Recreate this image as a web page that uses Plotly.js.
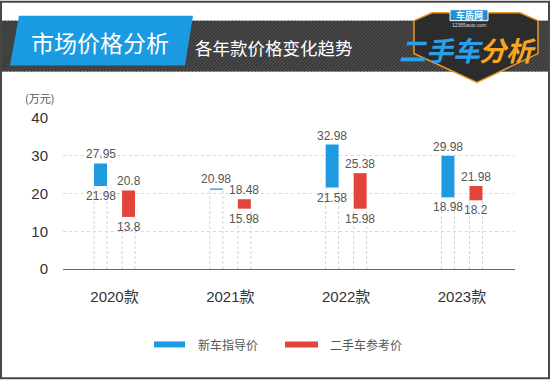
<!DOCTYPE html>
<html>
<head>
<meta charset="utf-8">
<script src="https://cdn.plot.ly/plotly-3.0.1.min.js"></script>
<style>
  html, body { margin: 0; padding: 0; background: #fff; }
  #chart { width: 550px; height: 380px; }
</style>
</head>
<body>
<div id="chart"></div>
<script>
// ---- data ----
const categories = ['2020款', '2021款', '2022款', '2023款'];
const newLow  = [21.98, 20.98, 21.58, 18.98];
const newHigh = [27.95, 20.98, 32.98, 29.98];
const usedLow  = [13.8, 15.98, 15.98, 18.2];
const usedHigh = [20.8, 18.48, 25.38, 21.98];
const seriesNames = ['新车指导价', '二手车参考价'];
const yTicks = [0, 10, 20, 30, 40];

// ---- style ----
const BLUE = '#1e9be0', RED = '#e2433b';
const FONT = 'Liberation Sans, Arial, "Noto Sans CJK SC", sans-serif';
const CJK = '"Noto Sans CJK SC", sans-serif';
const L = 63, R = 515, T = 117.7, B = 269.3;
const W = R - L, H = B - T;
const px = x => (x - L) / W;
const py = y => (B - y) / H;
const OFF = 0.121, BW = 0.112, MINLEN = 0.35;

const idx = categories.map((_, i) => i);
function barTrace(lo, hi, sign, color, name) {
  return {
    type: 'bar', name: name,
    x: idx.map(i => i + sign * OFF),
    y: lo.map((v, i) => Math.max(hi[i] - v, MINLEN)),
    base: lo, width: BW,
    marker: { color: color, line: { width: 0 } },
    hoverinfo: 'skip', showlegend: false
  };
}
function guideTrace(lo, sign) {
  const xs = [], ys = [];
  idx.forEach(i => {
    const c = i + sign * OFF;
    [c - BW / 2, c + BW / 2].forEach(x => { xs.push(x, x, null); ys.push(0, lo[i], null); });
  });
  return { type: 'scatter', mode: 'lines', x: xs, y: ys,
    line: { color: '#d4d4d4', width: 1, dash: '3px,2px' }, hoverinfo: 'skip', showlegend: false };
}

const traces = [
  guideTrace(newLow, -1), guideTrace(usedLow, 1),
  barTrace(newLow, newHigh, -1, BLUE, seriesNames[0]),
  barTrace(usedLow, usedHigh, 1, RED, seriesNames[1])
];

const annotations = [];
function labels(lo, hi, sign) {
  idx.forEach(i => {
    const c = i + sign * OFF;
    const top = Math.max(hi[i], lo[i] + MINLEN);
    annotations.push({ x: c, y: top, xref: 'x', yref: 'y', text: String(hi[i]), showarrow: false,
      yshift: 9, yanchor: 'middle', font: { family: FONT, size: 12, color: '#555' } });
    if (hi[i] !== lo[i]) {
      annotations.push({ x: c, y: lo[i], xref: 'x', yref: 'y', text: String(lo[i]), showarrow: false,
        yshift: -10, yanchor: 'middle', font: { family: FONT, size: 12, color: '#555' } });
    }
  });
}
labels(newLow, newHigh, -1);
labels(usedLow, usedHigh, 1);

// unit label
annotations.push({ xref: 'paper', yref: 'paper', x: px(39), y: py(97.5), text: '(万元)', showarrow: false,
  xanchor: 'center', yanchor: 'middle', font: { family: CJK, size: 11, color: '#555' } });

// legend (manual)
const shapes = [];
annotations.push({ xref: 'paper', yref: 'paper', x: px(196), y: py(345.5), text: seriesNames[0], showarrow: false,
  xanchor: 'left', yanchor: 'middle', font: { family: CJK, size: 12, color: '#555' } });
annotations.push({ xref: 'paper', yref: 'paper', x: px(328), y: py(345.5), text: seriesNames[1], showarrow: false,
  xanchor: 'left', yanchor: 'middle', font: { family: CJK, size: 12, color: '#555' } });
shapes.push({ type: 'rect', xref: 'paper', yref: 'paper', x0: px(154), x1: px(185), y0: py(342), y1: py(348),
  fillcolor: BLUE, line: { width: 0 } });
shapes.push({ type: 'rect', xref: 'paper', yref: 'paper', x0: px(285), x1: px(318), y0: py(342), y1: py(348),
  fillcolor: RED, line: { width: 0 } });

// header band
shapes.push({ type: 'rect', xref: 'paper', yref: 'paper', x0: px(0), x1: px(550), y0: py(71), y1: py(20),
  fillcolor: '#363636', line: { width: 0 } });
for (let k = -60; k < 560; k += 3.5) {
  shapes.push({ type: 'line', xref: 'paper', yref: 'paper', x0: px(k), y0: py(71), x1: px(k + 51), y1: py(20),
    line: { color: '#4e4e4e', width: 1.2 } });
}
// blue title box
function pathOf(pts) {
  return 'M' + pts.map(p => px(p[0]).toFixed(5) + ',' + py(p[1]).toFixed(5)).join(' L') + ' Z';
}
shapes.push({ type: 'path', xref: 'paper', yref: 'paper',
  path: pathOf([[19, 15], [193, 15], [185, 65], [10, 65]]), fillcolor: '#1a9ae0', line: { width: 0 } });
annotations.push({ xref: 'paper', yref: 'paper', x: px(100), y: py(41), text: '市场价格分析', showarrow: false,
  xanchor: 'center', yanchor: 'middle', font: { family: CJK, size: 23, color: '#ffffff' } });
annotations.push({ xref: 'paper', yref: 'paper', x: px(193), y: py(47), text: '各年款价格变化趋势', showarrow: false,
  xanchor: 'left', yanchor: 'middle', font: { family: CJK, size: 17.5, color: '#ffffff' } });

// logo shield
shapes.push({ type: 'path', xref: 'paper', yref: 'paper',
  path: pathOf([[414, 20], [432, 12], [520, 12], [538, 20], [538, 53], [477, 82], [414, 53]]),
  fillcolor: '#2c2c2c', line: { color: '#e79a23', width: 1.5 } });
shapes.push({ type: 'rect', xref: 'paper', yref: 'paper', x0: px(450), x1: px(488), y0: py(20), y1: py(9),
  fillcolor: '#1f8fd6', line: { color: '#ffffff', width: 1 } });
annotations.push({ xref: 'paper', yref: 'paper', x: px(469), y: py(14.5), text: '<b>车质网</b>', showarrow: false,
  xanchor: 'center', yanchor: 'middle', font: { family: CJK, size: 9, color: '#ffffff' } });
annotations.push({ xref: 'paper', yref: 'paper', x: px(469), y: py(24), text: '12365auto.com', showarrow: false,
  xanchor: 'center', yanchor: 'middle', font: { family: FONT, size: 5, color: '#dddddd' } });
annotations.push({ xref: 'paper', yref: 'paper', x: px(441), y: py(49), text: '<b><i>二手车</i></b>', showarrow: false,
  xanchor: 'center', yanchor: 'middle', font: { family: CJK, size: 27, color: '#2aa0e8' } });
annotations.push({ xref: 'paper', yref: 'paper', x: px(507), y: py(49), text: '<b><i>分析</i></b>', showarrow: false,
  xanchor: 'center', yanchor: 'middle', font: { family: CJK, size: 27, color: '#f7a71d' } });

// outer frame
shapes.push({ type: 'rect', xref: 'paper', yref: 'paper', x0: px(1), x1: px(549), y0: py(379), y1: py(1),
  fillcolor: 'rgba(0,0,0,0)', line: { color: '#474747', width: 2 } });

const layout = {
  width: 550, height: 380,
  margin: { l: L, r: 550 - R, t: T, b: 380 - B, pad: 0 },
  paper_bgcolor: '#ffffff', plot_bgcolor: '#ffffff',
  showlegend: false, hovermode: false, barmode: 'overlay',
  xaxis: {
    type: 'linear', range: [-0.445, 3.458], tickmode: 'array', tickvals: idx, ticktext: categories,
    showgrid: false, zeroline: false, showline: true, linecolor: '#666', linewidth: 1,
    ticks: '', ticklabelstandoff: 14, tickfont: { family: FONT, size: 15, color: '#333' }, fixedrange: true
  },
  yaxis: {
    range: [0, 40], tickmode: 'array', tickvals: yTicks, showgrid: true, gridcolor: '#d9d9d9', griddash: '3px,3px',
    gridwidth: 1, zeroline: false, showline: false, ticks: '', ticklabelstandoff: 14,
    tickfont: { family: FONT, size: 15, color: '#333' }, fixedrange: true
  },
  shapes: shapes, annotations: annotations
};

Plotly.newPlot('chart', traces, layout, { displayModeBar: false, staticPlot: true });
</script>
</body>
</html>
